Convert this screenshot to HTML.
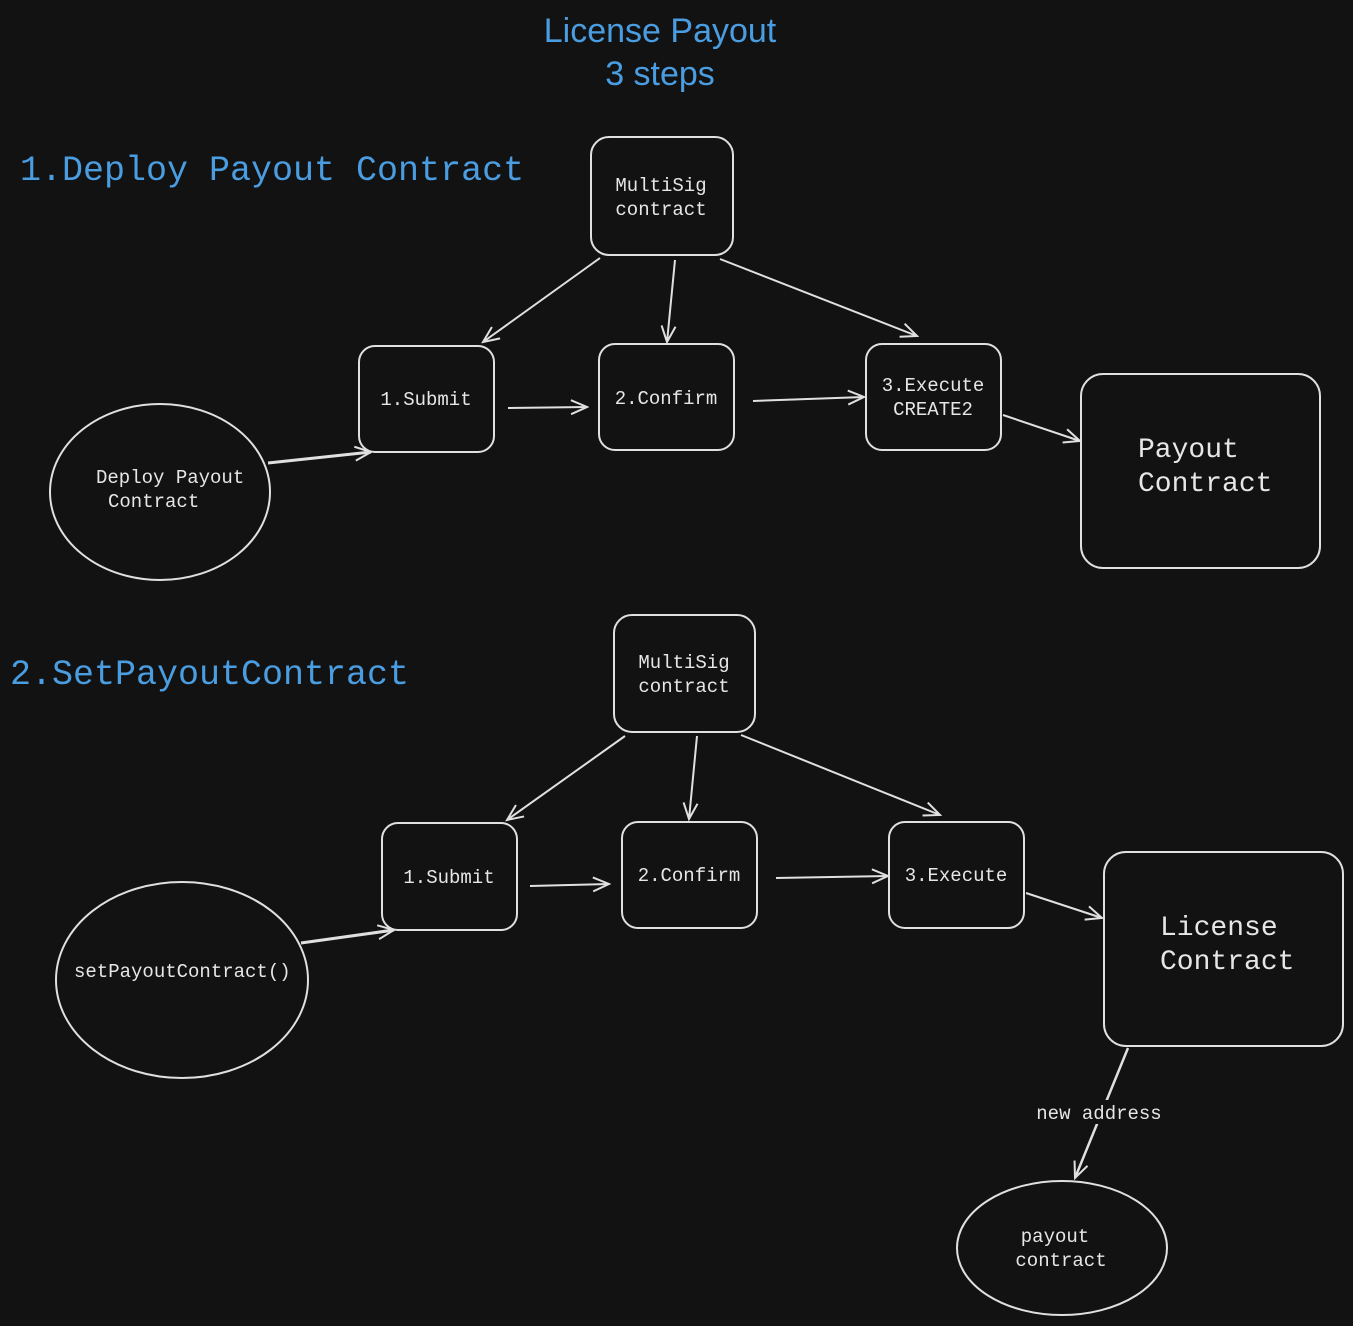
<!DOCTYPE html>
<html><head><meta charset="utf-8"><style>
html,body{margin:0;padding:0;background:#121212;}
svg{display:block;}
.m{font-family:"Liberation Mono",monospace;fill:#e6e6e6;}
.b{font-family:"Liberation Mono",monospace;fill:#4a9de0;}
</style></head><body>
<svg width="1353" height="1326" viewBox="0 0 1353 1326" xmlns="http://www.w3.org/2000/svg">
<defs>
<marker id="a" viewBox="0 0 20 20" refX="18" refY="10" markerWidth="20" markerHeight="20" markerUnits="userSpaceOnUse" orient="auto">
<polyline points="2,3 18,10 2,17" fill="none" stroke="#e0e0e0" stroke-width="2"/>
</marker>
</defs>
<rect width="1353" height="1326" fill="#121212"/>
<g font-family="Liberation Sans, sans-serif" font-size="34" fill="#4a9de0" text-anchor="middle">
<text x="660" y="42">License Payout</text>
<text x="660" y="85">3 steps</text>
</g>
<text class="b" x="20" y="180" font-size="35">1.Deploy Payout Contract</text>
<text class="b" x="10" y="684" font-size="35">2.SetPayoutContract</text>

<g fill="none" stroke="#e0e0e0" stroke-width="2">
<rect x="591" y="137" width="142" height="118" rx="18"/>
<rect x="359" y="346" width="135" height="106" rx="16"/>
<rect x="599" y="344" width="135" height="106" rx="16"/>
<rect x="866" y="344" width="135" height="106" rx="16"/>
<rect x="1081" y="374" width="239" height="194" rx="22"/>
<ellipse cx="160" cy="492" rx="110" ry="88"/>

<rect x="614" y="615" width="141" height="117" rx="18"/>
<rect x="382" y="823" width="135" height="107" rx="16"/>
<rect x="622" y="822" width="135" height="106" rx="16"/>
<rect x="889" y="822" width="135" height="106" rx="16"/>
<rect x="1104" y="852" width="239" height="194" rx="22"/>
<ellipse cx="182" cy="980" rx="126" ry="98"/>
<ellipse cx="1062" cy="1248" rx="105" ry="67"/>
</g>

<g stroke="#e0e0e0" stroke-width="2" fill="none" marker-end="url(#a)">
<line x1="600" y1="258" x2="483" y2="342"/>
<line x1="675" y1="260" x2="667" y2="342"/>
<line x1="720" y1="259" x2="917" y2="336"/>
<line x1="508" y1="408" x2="587" y2="407"/>
<line x1="753" y1="401" x2="864" y2="397"/>
<line x1="1003" y1="415" x2="1080" y2="441"/>
<line x1="268" y1="463" x2="371" y2="452" stroke-width="3"/>
<line x1="625" y1="736" x2="507" y2="820"/>
<line x1="697" y1="736" x2="689" y2="819"/>
<line x1="741" y1="735" x2="940" y2="815"/>
<line x1="530" y1="886" x2="609" y2="884"/>
<line x1="776" y1="878" x2="888" y2="876"/>
<line x1="1026" y1="893" x2="1102" y2="918"/>
<line x1="301" y1="943" x2="394" y2="930" stroke-width="3"/>
<line x1="1128" y1="1048" x2="1075" y2="1178" stroke-width="2.5"/>
</g>
<rect x="1030" y="1100" width="140" height="24" fill="#121212"/>

<g class="m" font-size="19" text-anchor="middle">
<text x="661" y="191">MultiSig</text>
<text x="661" y="215">contract</text>
<text x="426" y="405">1.Submit</text>
<text x="666" y="404">2.Confirm</text>
<text x="933" y="391">3.Execute</text>
<text x="933" y="415">CREATE2</text>
<text x="684" y="668">MultiSig</text>
<text x="684" y="692">contract</text>
<text x="449" y="883">1.Submit</text>
<text x="689" y="881">2.Confirm</text>
<text x="956" y="881">3.Execute</text>
<text x="1099" y="1119">new address</text>
<text x="1055" y="1242">payout</text>
<text x="1061" y="1266">contract</text>
</g>
<g class="m" font-size="19">
<text x="96" y="483">Deploy Payout</text>
<text x="108" y="507">Contract</text>
<text x="74" y="977">setPayoutContract()</text>
</g>
<g class="m" font-size="28">
<text x="1138" y="457">Payout</text>
<text x="1138" y="491">Contract</text>
<text x="1160" y="935">License</text>
<text x="1160" y="969">Contract</text>
</g>
</svg>
</body></html>
